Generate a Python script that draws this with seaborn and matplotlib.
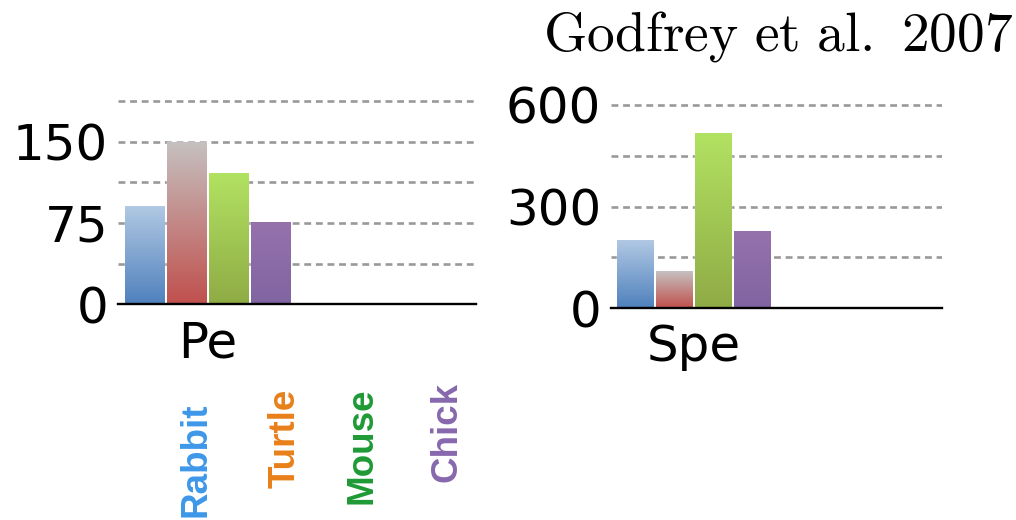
import numpy as np
import pandas as pd
import matplotlib
matplotlib.use("Agg")
import matplotlib.pyplot as plt
import matplotlib.colors as mcolors
from matplotlib.ticker import FixedLocator
import seaborn as sns

# ---- data ----
species = ["Rabbit", "Turtle", "Mouse", "Chick"]
pe_values = [91, 150, 121, 76]
spe_values = [201, 109, 517, 228]
panel_names = ["Pe", "Spe"]
pe_ticks = [0, 75, 150]
spe_ticks = [0, 300, 600]
title_text = r"$\mathrm{Godfrey\ et\ al.\ 2007}$"

# gradient fills (bottom colour, top colour) per species
bar_bottom = ["#4f81bd", "#c0504d", "#8fab45", "#8064a2"]
bar_top = ["#b2c9e4", "#c5c1c0", "#b2e262", "#9672ac"]
label_colors = ["#3d97e8", "#e8801a", "#1f9a35", "#8768ae"]

sns.set_style("white")
plt.rcParams["font.family"] = ["DejaVu Sans"]
plt.rcParams["mathtext.fontset"] = "cm"
plt.rcParams["text.color"] = "black"
plt.rcParams["xtick.color"] = "black"
plt.rcParams["ytick.color"] = "black"
plt.rcParams["xtick.labelcolor"] = "black"
plt.rcParams["ytick.labelcolor"] = "black"

W, H = 1016, 520
fig = plt.figure(figsize=(W / 100, H / 100), dpi=100)


def px_axes(left, bottom_y, width, top_y):
    return fig.add_axes([left / W, (H - bottom_y) / H, width / W, (bottom_y - top_y) / H])


def gradient_fill(ax, patch, c_bottom, c_top):
    x, y = patch.get_x(), patch.get_y()
    w, h = patch.get_width(), patch.get_height()
    cb = np.array(mcolors.to_rgb(c_bottom))
    ct = np.array(mcolors.to_rgb(c_top))
    t = np.linspace(0, 1, 256)[:, None, None]
    img = cb[None, None, :] * (1 - t) + ct[None, None, :] * t
    im = ax.imshow(img, extent=[x, x + w, y, y + h], origin="lower",
                   aspect="auto", zorder=patch.get_zorder() + 0.1,
                   interpolation="bilinear")
    im.set_clip_path(patch)


def draw_panel(ax, name, values, ticks, ymax, minor):
    df = pd.DataFrame({"panel": [name] * len(species), "species": species, "value": values})
    sns.barplot(data=df, x="panel", y="value", hue="species", hue_order=species,
                palette=bar_bottom, width=0.8, gap=0.07, legend=False,
                saturation=1, ax=ax, zorder=2)
    for patch, cb, ct in zip(ax.patches, bar_bottom, bar_top):
        gradient_fill(ax, patch, cb, ct)
    ax.set_xlim(-0.426, 1.279)
    ax.set_ylim(0, ymax)
    ax.set_xlabel("")
    ax.set_ylabel("")
    ax.set_yticks(ticks)
    ax.yaxis.set_minor_locator(FixedLocator(minor))
    ax.set_yticklabels([str(t) for t in ticks])
    ax.grid(False)
    ax.yaxis.grid(True, which="both", color="#999999", lw=1.9,
                  linestyle=(0, (2.6, 1.8)), zorder=0)
    ax.set_axisbelow(True)
    for s in ["top", "right", "left"]:
        ax.spines[s].set_visible(False)
    ax.spines["bottom"].set_color("black")
    ax.spines["bottom"].set_linewidth(1.7)
    ax.spines["bottom"].set_zorder(5)
    ax.tick_params(axis="y", which="both", length=0, pad=7, labelsize=36, labelcolor="black")
    ax.tick_params(axis="x", length=0, pad=11, labelsize=36, labelcolor="black")


ax1 = px_axes(118, 304, 358, 304 - 190 * 1.08)
draw_panel(ax1, panel_names[0], pe_values, pe_ticks, 190, [37.5, 112.5, 187.5])

ax2 = px_axes(611, 308, 331, 308 - 610 * (203 / 600))
draw_panel(ax2, panel_names[1], spe_values, spe_ticks, 610, [150, 450])

fig.text(778 / W, (H - 50) / H, title_text, ha="center", va="baseline", fontsize=40)

# species names, rotated, under the first panel
label_pos = [(196, 460), (285, 438), (362, 446), (447, 432)]
for name, col, (px, py) in zip(species, label_colors, label_pos):
    fig.text(px / W, (H - py) / H, name, rotation=90, ha="center", va="center",
             color=col, fontsize=26.5, fontweight="bold", family=["Liberation Sans"])

fig.savefig("out.png", dpi=100)
